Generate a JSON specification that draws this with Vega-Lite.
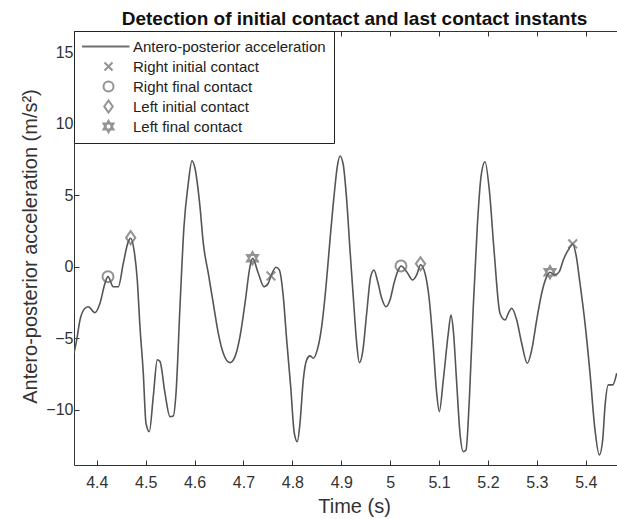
{
  "$schema": "https://vega.github.io/schema/vega-lite/v6.json",
  "width": 543,
  "height": 434,
  "autosize": {"type": "none"},
  "padding": {"left": 74, "top": 31, "right": 0, "bottom": 54},
  "background": "white",
  "config": {
    "font": "Liberation Sans",
    "view": {"stroke": null},
    "axis": {
      "grid": false,
      "domainColor": "#333",
      "tickColor": "#333",
      "labelColor": "#333",
      "titleColor": "#333",
      "labelFontSize": 16,
      "titleFontSize": 20,
      "titleFontWeight": "normal",
      "tickSize": -5,
      "tickWidth": 1,
      "domainWidth": 1
    },
    "legend": {
      "title": null,
      "strokeColor": "#222",
      "fillColor": "white",
      "padding": 8,
      "labelFontSize": 15,
      "labelColor": "#222",
      "symbolSize": 100,
      "symbolStrokeWidth": 2,
      "symbolOffset": 19,
      "labelOffset": 17,
      "rowPadding": 4,
      "clipHeight": 15,
      "labelLimit": 300
    }
  },
  "datasets": {
    "signal": [
      {"t": 4.3534, "a": -6.03}, {"t": 4.3589, "a": -5.10}, {"t": 4.3656, "a": -3.71}, {"t": 4.3759, "a": -2.89},
      {"t": 4.3826, "a": -2.78}, {"t": 4.3963, "a": -3.20}, {"t": 4.4065, "a": -2.54}, {"t": 4.4168, "a": -1.14},
      {"t": 4.4229, "a": -0.68}, {"t": 4.4337, "a": -1.38}, {"t": 4.4440, "a": -1.38}, {"t": 4.4542, "a": 0.26},
      {"t": 4.4644, "a": 1.77}, {"t": 4.4693, "a": 2.01}, {"t": 4.4761, "a": 1.19}, {"t": 4.4828, "a": -0.91},
      {"t": 4.4883, "a": -4.17}, {"t": 4.4951, "a": -7.43}, {"t": 4.5006, "a": -10.93}, {"t": 4.5074, "a": -11.52},
      {"t": 4.5155, "a": -9.07}, {"t": 4.5237, "a": -6.50}, {"t": 4.5292, "a": -6.62}, {"t": 4.5395, "a": -8.83},
      {"t": 4.5497, "a": -10.47}, {"t": 4.5564, "a": -10.42}, {"t": 4.5620, "a": -8.83}, {"t": 4.5701, "a": -2.78},
      {"t": 4.5783, "a": 2.82}, {"t": 4.5871, "a": 5.85}, {"t": 4.5947, "a": 7.43}, {"t": 4.6008, "a": 6.90},
      {"t": 4.6110, "a": 4.22}, {"t": 4.6178, "a": 1.66}, {"t": 4.6280, "a": -0.44}, {"t": 4.6382, "a": -2.54},
      {"t": 4.6485, "a": -4.64}, {"t": 4.6587, "a": -6.03}, {"t": 4.6724, "a": -6.69}, {"t": 4.6826, "a": -6.27},
      {"t": 4.6928, "a": -4.87}, {"t": 4.7031, "a": -2.54}, {"t": 4.7133, "a": 0.02}, {"t": 4.7184, "a": 0.61},
      {"t": 4.7303, "a": -0.44}, {"t": 4.7419, "a": -1.38}, {"t": 4.7507, "a": -1.14}, {"t": 4.7562, "a": -0.63},
      {"t": 4.7665, "a": -0.02}, {"t": 4.7732, "a": -0.21}, {"t": 4.7814, "a": -2.08}, {"t": 4.7883, "a": -5.10},
      {"t": 4.7965, "a": -8.37}, {"t": 4.8039, "a": -11.63}, {"t": 4.8100, "a": -12.22}, {"t": 4.8155, "a": -10.93},
      {"t": 4.8223, "a": -7.90}, {"t": 4.8292, "a": -6.50}, {"t": 4.8360, "a": -6.22}, {"t": 4.8427, "a": -6.38},
      {"t": 4.8509, "a": -5.80}, {"t": 4.8599, "a": -4.17}, {"t": 4.8687, "a": -1.38}, {"t": 4.8769, "a": 1.89},
      {"t": 4.8857, "a": 5.15}, {"t": 4.8918, "a": 7.01}, {"t": 4.8973, "a": 7.76}, {"t": 4.9041, "a": 7.13},
      {"t": 4.9110, "a": 4.69}, {"t": 4.9178, "a": 1.19}, {"t": 4.9245, "a": -2.08}, {"t": 4.9315, "a": -5.34},
      {"t": 4.9368, "a": -6.69}, {"t": 4.9438, "a": -5.92}, {"t": 4.9519, "a": -3.24}, {"t": 4.9601, "a": -0.68},
      {"t": 4.9669, "a": -0.21}, {"t": 4.9736, "a": -0.91}, {"t": 4.9826, "a": -2.19}, {"t": 4.9914, "a": -2.78},
      {"t": 4.9996, "a": -2.31}, {"t": 5.0078, "a": -1.14}, {"t": 5.0166, "a": -0.21}, {"t": 5.0221, "a": 0.07},
      {"t": 5.0337, "a": -0.33}, {"t": 5.0460, "a": -0.91}, {"t": 5.0542, "a": -0.56}, {"t": 5.0620, "a": 0.15},
      {"t": 5.0712, "a": -0.44}, {"t": 5.0800, "a": -2.31}, {"t": 5.0881, "a": -5.57}, {"t": 5.0951, "a": -8.83},
      {"t": 5.1004, "a": -10.12}, {"t": 5.1086, "a": -7.90}, {"t": 5.1188, "a": -4.64}, {"t": 5.1243, "a": -3.36},
      {"t": 5.1290, "a": -4.41}, {"t": 5.1360, "a": -8.13}, {"t": 5.1427, "a": -11.63}, {"t": 5.1495, "a": -12.92},
      {"t": 5.1550, "a": -12.80}, {"t": 5.1618, "a": -9.30}, {"t": 5.1699, "a": -2.78}, {"t": 5.1781, "a": 2.82},
      {"t": 5.1857, "a": 6.31}, {"t": 5.1939, "a": 7.36}, {"t": 5.2027, "a": 5.38}, {"t": 5.2123, "a": 1.19},
      {"t": 5.2245, "a": -3.24}, {"t": 5.2348, "a": -3.71}, {"t": 5.2415, "a": -3.24}, {"t": 5.2485, "a": -2.89},
      {"t": 5.2587, "a": -3.71}, {"t": 5.2689, "a": -5.34}, {"t": 5.2804, "a": -6.73}, {"t": 5.2894, "a": -5.80},
      {"t": 5.2996, "a": -3.71}, {"t": 5.3098, "a": -1.84}, {"t": 5.3200, "a": -0.68}, {"t": 5.3268, "a": -0.37},
      {"t": 5.3370, "a": -0.56}, {"t": 5.3458, "a": -0.33}, {"t": 5.3540, "a": 0.49}, {"t": 5.3642, "a": 1.19},
      {"t": 5.3732, "a": 1.61}, {"t": 5.3800, "a": 0.84}, {"t": 5.3881, "a": -1.14}, {"t": 5.3984, "a": -3.94},
      {"t": 5.4086, "a": -7.43}, {"t": 5.4188, "a": -11.40}, {"t": 5.4276, "a": -13.15}, {"t": 5.4345, "a": -12.10},
      {"t": 5.4392, "a": -9.77}, {"t": 5.4460, "a": -8.25}, {"t": 5.4550, "a": -8.25}, {"t": 5.4632, "a": -7.43}
    ],
    "events": [
      {"t": 4.4229, "a": -0.68, "type": "Right final contact"},
      {"t": 5.0221, "a": 0.07, "type": "Right final contact"},
      {"t": 4.4693, "a": 2.05, "type": "Left initial contact"},
      {"t": 5.0620, "a": 0.22, "type": "Left initial contact"},
      {"t": 4.7184, "a": 0.61, "type": "Left final contact"},
      {"t": 5.3268, "a": -0.37, "type": "Left final contact"},
      {"t": 4.7562, "a": -0.63, "type": "Right initial contact"},
      {"t": 5.3732, "a": 1.61, "type": "Right initial contact"}
    ]
  },
  "layer": [
    {
      "data": {"name": "signal"},
      "mark": {"type": "line", "color": "#555", "strokeWidth": 1.6, "interpolate": "monotone", "clip": true},
      "encoding": {
        "x": {
          "field": "t", "type": "quantitative",
          "scale": {"domain": [4.3534, 5.4638], "nice": false, "zero": false},
          "axis": {
            "orient": "bottom",
            "values": [4.4, 4.5, 4.6, 4.7, 4.8, 4.9, 5, 5.1, 5.2, 5.3, 5.4],
            "format": "~g",
            "labelPadding": 14,
            "title": "Time (s)",
            "titleX": 280,
            "titleY": 47,
            "titleBaseline": "alphabetic",
            "titleAlign": "center"
          }
        },
        "y": {
          "field": "a", "type": "quantitative",
          "scale": {"domain": [-13.85, 16.5], "nice": false, "zero": false},
          "axis": {
            "values": [-10, -5, 0, 5, 10, 15],
            "labelPadding": 6,
            "title": "Antero-posterior acceleration (m/s²)",
            "titleX": -44,
            "titleY": 215,
            "titleBaseline": "middle",
            "titleAlign": "center",
            "titleAngle": 270
          }
        }
      }
    },
    {
      "data": {"name": "events"},
      "mark": {"type": "point", "filled": false, "size": 120, "strokeWidth": 2, "clip": true},
      "encoding": {
        "x": {
          "field": "t", "type": "quantitative",
          "scale": {"domain": [4.3534, 5.4638], "nice": false, "zero": false},
          "axis": {
            "orient": "top",
            "values": [4.4, 4.5, 4.6, 4.7, 4.8, 4.9, 5, 5.1, 5.2, 5.3, 5.4],
            "labels": false,
            "title": "Detection of initial contact and last contact instants",
            "titleFontSize": 19,
            "titleFontWeight": "bold",
            "titleColor": "#111",
            "titleX": 280,
            "titleY": -7,
            "titleBaseline": "alphabetic",
            "titleAlign": "center"
          }
        },
        "y": {
          "field": "a", "type": "quantitative",
          "scale": {"domain": [-13.85, 16.5], "nice": false, "zero": false},
          "axis": {
            "values": [-10, -5, 0, 5, 10, 15],
            "labelPadding": 6,
            "title": "Antero-posterior acceleration (m/s²)",
            "titleX": -44,
            "titleY": 215,
            "titleBaseline": "middle",
            "titleAlign": "center",
            "titleAngle": 270
          }
        },
        "shape": {
          "field": "type", "type": "nominal",
          "scale": {
            "domain": ["Antero-posterior acceleration", "Right initial contact", "Right final contact", "Left initial contact", "Left final contact"],
            "range": ["M-5.8,0H4.2", "M-0.8,-0.8L0.8,0.8M-0.8,0.8L0.8,-0.8", "circle", "M0,-1.2L0.85,0L0,1.2L-0.85,0Z", "M0,-1.15L1,0.58L-1,0.58Z M0,1.15L1,-0.58L-1,-0.58Z"]
          },
          "legend": {"orient": "top-left", "offset": 0}
        },
        "fill": {
          "field": "type", "type": "nominal",
          "scale": {
            "domain": ["Antero-posterior acceleration", "Right initial contact", "Right final contact", "Left initial contact", "Left final contact"],
            "range": ["transparent", "transparent", "transparent", "transparent", "#666"]
          },
          "legend": {"orient": "top-left", "offset": 0}
        },
        "stroke": {
          "field": "type", "type": "nominal",
          "scale": {
            "domain": ["Antero-posterior acceleration", "Right initial contact", "Right final contact", "Left initial contact", "Left final contact"],
            "range": ["#333", "#666", "#666", "#666", "#666"]
          },
          "legend": {"orient": "top-left", "offset": 0}
        }
      }
    }
  ],
  "resolve": {"axis": {"x": "independent"}}
}
